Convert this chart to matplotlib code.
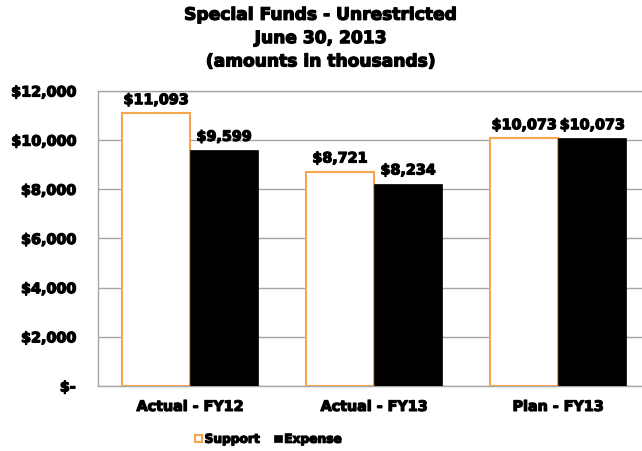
import matplotlib.pyplot as plt
import matplotlib.patheffects as pe
import numpy as np

categories = ['Actual - FY12', 'Actual - FY13', 'Plan - FY13']
support = [11093, 8721, 10073]
expense = [9599, 8234, 10073]
yticks = [0, 2000, 4000, 6000, 8000, 10000, 12000]
ytick_labels = ['$-', '$2,000', '$4,000', '$6,000', '$8,000', '$10,000', '$12,000']

plt.rcParams['font.family'] = ['DejaVu Sans']
plt.rcParams['font.weight'] = 'bold'

orange = '#F7A650'
grid_col = '#A6A6A6'
# slight outline so the bold text looks heavier, like the original's black face
heavy = [pe.withStroke(linewidth=0.9, foreground='black')]

fig = plt.figure(figsize=(6.42, 4.52), dpi=100)
# the plot area runs past the right edge of the picture, as in the original
ax = fig.add_axes([0.1526, 0.1438, 0.86, 0.6527])

x = np.arange(len(categories))
w = 0.37
b1 = ax.bar(x - w / 2, support, w, color='white', edgecolor=orange, linewidth=1.5,
            label='Support', zorder=3)
b2 = ax.bar(x + w / 2, expense, w, color='black', edgecolor='black', linewidth=0.5,
            label='Expense', zorder=3)

for bars in (b1, b2):
    for r in bars:
        v = r.get_height()
        ax.text(r.get_x() + r.get_width() / 2, v + 250, f'${v:,.0f}',
                ha='center', va='bottom', fontsize=10.3, fontweight='bold',
                path_effects=heavy)

ax.set_xlim(-0.5, 2.5)
ax.set_ylim(0, 12000)
ax.set_yticks(yticks)
ax.set_yticklabels(ytick_labels, fontsize=10.3, fontweight='bold', path_effects=heavy)
ax.set_xticks(x)
ax.set_xticklabels(categories, fontsize=10.3, fontweight='bold', path_effects=heavy)
ax.tick_params(axis='y', length=0, pad=16)
ax.tick_params(axis='x', length=0, pad=10)
ax.yaxis.grid(True, color=grid_col, linewidth=1, zorder=0)
ax.set_axisbelow(True)
for s in ax.spines.values():
    s.set_color(grid_col)
    s.set_linewidth(1)

fig.suptitle('Special Funds - Unrestricted\nJune 30, 2013\n(amounts in thousands)',
             x=0.5, y=0.985, fontsize=12.3, fontweight='bold', linespacing=1.38,
             path_effects=heavy)

leg = fig.legend(handles=[b1, b2], loc='center', bbox_to_anchor=(0.418, 0.026), ncol=2,
                 frameon=False, fontsize=8.8, handlelength=0.6, handleheight=0.6,
                 handletextpad=0.2, columnspacing=1.2)
for t in leg.get_texts():
    t.set_path_effects(heavy)

fig.savefig('out.png', dpi=100)
